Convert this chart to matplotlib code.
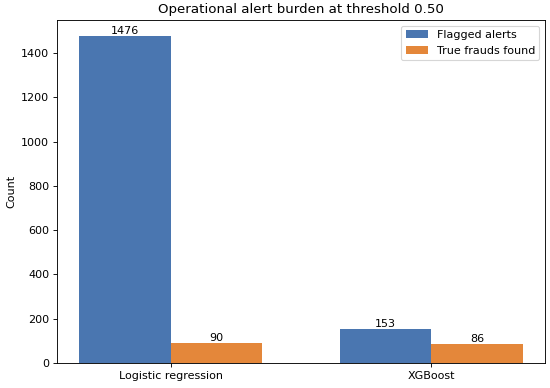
import matplotlib
matplotlib.use("Agg")
import matplotlib.pyplot as plt
import numpy as np

models = ["Logistic regression", "XGBoost"]
flagged = [1476, 153]
true_frauds = [90, 86]

DPI = 80
fig, ax = plt.subplots(figsize=(550 / DPI, 388 / DPI), dpi=DPI)
x = np.arange(len(models))
w = 0.35
b1 = ax.bar(x - w/2, flagged, w, label="Flagged alerts", color="#4A76B0")
b2 = ax.bar(x + w/2, true_frauds, w, label="True frauds found", color="#E4873A")
ax.bar_label(b1)
ax.bar_label(b2)
ax.set_xticks(x)
ax.set_xticklabels(models)
ax.set_ylabel("Count")
ax.set_title("Operational alert burden at threshold 0.50")
ax.legend()
fig.subplots_adjust(left=57/550, right=545/550, top=1-20/388, bottom=1-363/388)
fig.savefig("out.png", dpi=DPI)
